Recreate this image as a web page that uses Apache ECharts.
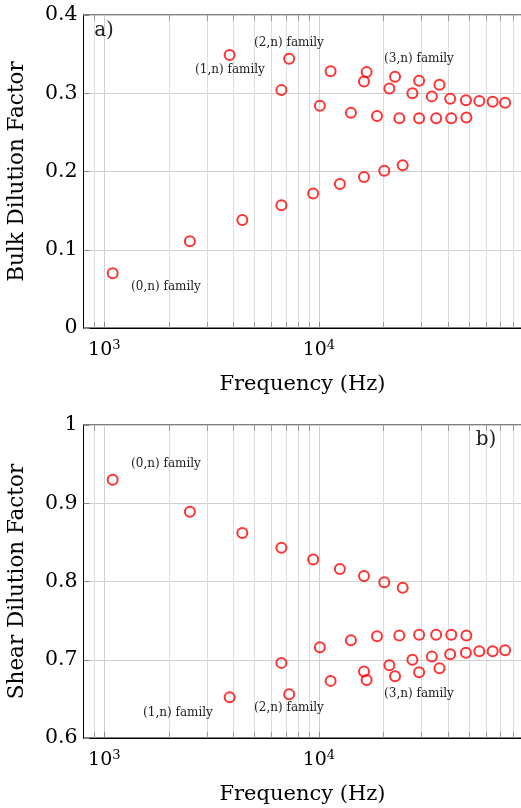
<!DOCTYPE html>
<html>
<head>
<meta charset="utf-8">
<script src="https://cdn.jsdelivr.net/npm/echarts@6/dist/echarts.min.js"></script>
<style>
  html, body { margin: 0; padding: 0; background: #fff; }
  #chart { width: 521px; height: 808px; }
</style>
</head>
<body>
<div id="chart"></div>
<script>
// frequencies (Hz) per mode family
var freq0 = [1094, 2505, 4399, 6690, 9408, 12530, 16230, 20180, 24590];
var freq1 = [3840, 10110, 14110, 18660, 23720, 29330, 35220, 41400, 48700];
var freq2 = [6690, 16230, 21320, 27290, 33620, 40930, 48480, 55950, 64560, 73790];
var freq3 = [7270, 11340, 16700, 22650, 29330, 36490];

// bulk dilution factor (panel a)
var bulk0 = [0.070, 0.111, 0.138, 0.157, 0.172, 0.184, 0.193, 0.201, 0.208];
var bulk1 = [0.349, 0.284, 0.275, 0.271, 0.268, 0.268, 0.268, 0.268, 0.269];
var bulk2 = [0.304, 0.315, 0.306, 0.300, 0.296, 0.293, 0.291, 0.290, 0.289, 0.288];
var bulk3 = [0.344, 0.328, 0.327, 0.321, 0.316, 0.311];

// shear dilution factor (panel b)
var shear0 = [0.930, 0.889, 0.862, 0.843, 0.828, 0.816, 0.807, 0.799, 0.792];
var shear1 = [0.652, 0.716, 0.725, 0.730, 0.731, 0.732, 0.732, 0.732, 0.731];
var shear2 = [0.696, 0.685, 0.693, 0.700, 0.704, 0.707, 0.709, 0.711, 0.711, 0.712];
var shear3 = [0.656, 0.673, 0.674, 0.679, 0.684, 0.689];

// minor log grid positions
var minorX = [900, 2000, 3000, 4000, 5000, 6000, 7000, 8000, 9000,
              20000, 30000, 40000, 50000, 60000, 70000, 80000];

var FONT = 'DejaVu Serif';

function pairs(xs, ys) {
  return xs.map(function (x, i) { return [x, ys[i]]; });
}

var chart = echarts.init(document.getElementById('chart'));

function xAxisFor(idx) {
  return {
    type: 'log', logBase: 10, gridIndex: idx, min: 800, max: 88000,
    name: 'Frequency (Hz)', nameLocation: 'middle', nameGap: 46,
    nameTextStyle: { fontFamily: FONT, fontSize: 21, color: '#000' },
    axisLine: { show: true, onZero: false, lineStyle: { color: '#000', width: 1 } },
    axisTick: { inside: true, length: 6, lineStyle: { color: '#888' } },
    axisLabel: {
      showMinLabel: false, showMaxLabel: false, margin: 11, color: '#000', fontFamily: FONT, fontSize: 19,
      formatter: function (v) {
        var p = Math.round(Math.log(v) / Math.LN10);
        if (Math.abs(v - Math.pow(10, p)) > 1e-6 * v) return '';
        return '10{s|' + p + '}';
      },
      rich: { s: { fontFamily: FONT, fontSize: 13, verticalAlign: 'top', padding: [0, 0, 10, 0] } }
    },
    splitLine: { show: true, lineStyle: { color: '#cfcfcf', width: 1 } }
  };
}

function yAxisFor(idx, min, max, name) {
  return {
    type: 'value', gridIndex: idx, min: min, max: max, interval: 0.1,
    name: name, nameLocation: 'middle', nameGap: 55,
    nameTextStyle: { fontFamily: FONT, fontSize: 21.5, color: '#000' },
    axisLine: { show: true, lineStyle: { color: '#000', width: 1 } },
    axisTick: { show: true, inside: true, length: 6, lineStyle: { color: '#888' } },
    axisLabel: {
      margin: 6, color: '#000', fontFamily: FONT, fontSize: 20.5,
      formatter: function (v) { return String(Math.round(v * 10) / 10); }
    },
    splitLine: { show: true, lineStyle: { color: '#cfcfcf', width: 1 } }
  };
}

function minorGrid(idx, ymin) {
  return {
    type: 'custom', xAxisIndex: idx, yAxisIndex: idx, silent: true, z: 1,
    data: minorX.map(function (x) { return [x, ymin]; }),
    renderItem: function (params, api) {
      var cs = params.coordSys;
      var x = Math.round(api.coord([api.value(0), ymin])[0]) + 0.5;
      return {
        type: 'group',
        children: [
          { type: 'line', shape: { x1: x, y1: cs.y, x2: x, y2: cs.y + cs.height },
            style: { stroke: '#dcdcdc', lineWidth: 1 } },
          { type: 'line', shape: { x1: x, y1: cs.y + cs.height, x2: x, y2: cs.y + cs.height - 6 },
            style: { stroke: '#999', lineWidth: 1 } },
          { type: 'line', shape: { x1: x, y1: cs.y, x2: x, y2: cs.y + 6 },
            style: { stroke: '#999', lineWidth: 1 } }
        ]
      };
    }
  };
}

function marks(idx, xs, ys) {
  return {
    type: 'scatter', xAxisIndex: idx, yAxisIndex: idx, z: 5, silent: true,
    symbol: 'circle', symbolSize: 10,
    itemStyle: { color: 'rgba(255,255,255,0)', borderColor: '#ff0000', borderWidth: 2 },
    data: pairs(xs, ys)
  };
}

function note(text, x, y, size) {
  return {
    type: 'text', x: x, y: y, z: 10,
    style: {
      text: text, fontFamily: FONT, fontSize: size || 12, fill: '#222',
      align: 'center', verticalAlign: 'middle'
    }
  };
}

var option = {
  animation: false,
  backgroundColor: '#fff',
  grid: [
    { left: 83.5, top: 15, width: 438, height: 313, show: true, borderColor: '#000', borderWidth: 1,
      containLabel: false, outerBoundsMode: 'none' },
    { left: 83.5, top: 425, width: 438, height: 313, show: true, borderColor: '#000', borderWidth: 1,
      containLabel: false, outerBoundsMode: 'none' }
  ],
  xAxis: [xAxisFor(0), xAxisFor(1)],
  yAxis: [
    yAxisFor(0, 0, 0.4, 'Bulk Dilution Factor'),
    yAxisFor(1, 0.6, 1, 'Shear Dilution Factor')
  ],
  series: [
    minorGrid(0, 0), minorGrid(1, 0.6),
    marks(0, freq0, bulk0), marks(0, freq1, bulk1), marks(0, freq2, bulk2), marks(0, freq3, bulk3),
    marks(1, freq0, shear0), marks(1, freq1, shear1), marks(1, freq2, shear2), marks(1, freq3, shear3)
  ],
  graphic: [
    note('a)', 104, 31, 20),
    note('(2,n) family', 289, 43),
    note('(1,n) family', 230, 70),
    note('(3,n) family', 419, 59),
    note('(0,n) family', 166, 287),
    note('b)', 486, 440, 20),
    note('(0,n) family', 166, 464),
    note('(1,n) family', 178, 713),
    note('(2,n) family', 289, 708),
    note('(3,n) family', 419, 694)
  ]
};

chart.setOption(option);
</script>
</body>
</html>
